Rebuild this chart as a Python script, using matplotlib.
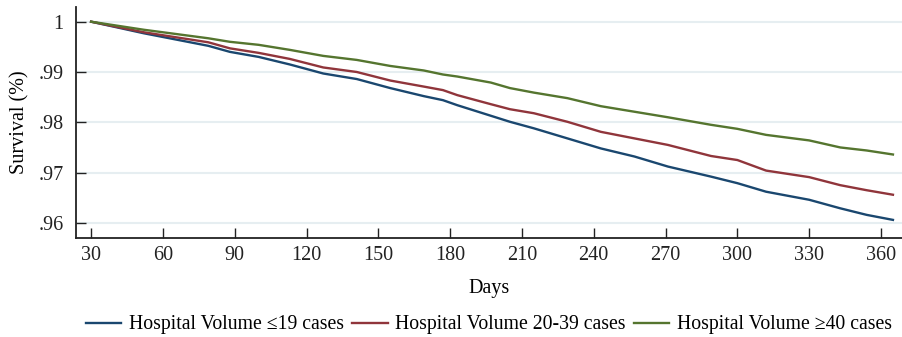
import numpy as np
import matplotlib.pyplot as plt

plt.rcParams['font.family'] = ['Liberation Serif', 'DejaVu Serif']

days = [30, 52, 79, 88, 100, 113, 127, 141, 155, 169, 177, 183, 197, 205,
        215, 229, 243, 257, 271, 289, 300, 312, 330, 343, 354, 365]
low_vol = [1.0, .9977, .9952, .9940, .9930, .9915, .9897, .9886, .9868, .9852,
           .9844, .9834, .9813, .9801, .9788, .9768, .9748, .9732, .9712, .9692,
           .9679, .9662, .9646, .9629, .9616, .9606]
mid_vol = [1.0, .9979, .9959, .9947, .9938, .9926, .9909, .9900, .9883, .9871,
           .9864, .9854, .9836, .9826, .9818, .9801, .9781, .9768, .9755, .9733,
           .9725, .9704, .9691, .9675, .9665, .9656]
high_vol = [1.0, .9984, .9967, .9960, .9954, .9944, .9932, .9924, .9912, .9903,
            .9895, .9891, .9879, .9868, .9859, .9848, .9832, .9821, .9810, .9795,
            .9787, .9775, .9764, .9750, .9744, .9736]
labels = ['Hospital Volume \u226419 cases', 'Hospital Volume 20-39 cases',
          'Hospital Volume \u226540 cases']
colors = ['#1a476f', '#90353b', '#55752f']

xticks = np.arange(30, 361, 30)
yticks = [0.96, 0.97, 0.98, 0.99, 1.0]
ytick_labels = ['.96', '.97', '.98', '.99', '1']

fig = plt.figure(figsize=(9.03, 3.37), dpi=100)
ax = fig.add_axes([76/903, 1-238/337, 1-76/903, (238-7)/337])

for y, lab, c in zip([low_vol, mid_vol, high_vol], labels, colors):
    ax.plot(days, y, color=c, lw=1.7, label=lab)

ax.set_xlim(23.7, 369.2)
ax.set_ylim(0.957, 1.00292)
ax.set_xticks(xticks)
ax.set_yticks(yticks)
ax.set_yticklabels(ytick_labels)
ax.tick_params(direction='in', length=7, width=1, labelsize=14.5, colors='#222222')
ax.tick_params(axis='y', pad=9)
ax.tick_params(axis='x', pad=6)
ax.grid(axis='y', color='#e6eef1', lw=1.5)
ax.set_axisbelow(True)
for s in ['top', 'right']:
    ax.spines[s].set_visible(False)
for s in ['left', 'bottom']:
    ax.spines[s].set_linewidth(1.3)
    ax.spines[s].set_color('#222222')

ax.set_xlabel('Days', fontsize=14.5, labelpad=10)
ax.set_ylabel('Survival (%)', fontsize=14.5, labelpad=6)

fig.legend(loc='center', bbox_to_anchor=(489/903, 1-325/337), ncol=3, frameon=False,
           fontsize=14.2, handlelength=1.8, handletextpad=0.4, columnspacing=0.4,
           borderpad=0)

fig.savefig('out.png', dpi=100)
